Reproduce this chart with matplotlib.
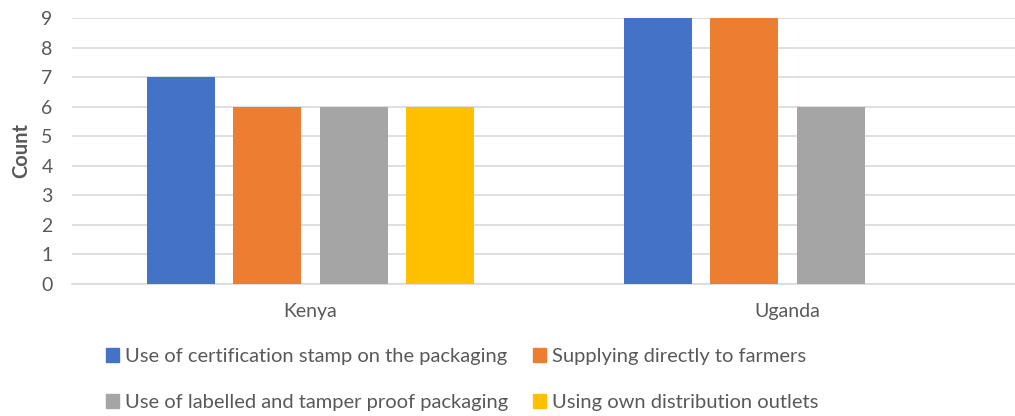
import numpy as np
import matplotlib
matplotlib.use("Agg")
import matplotlib.pyplot as plt
from matplotlib.patches import Patch

countries = ["Kenya", "Uganda"]
series_names = [
    "Use of certification stamp on the packaging",
    "Supplying directly to farmers",
    "Use of labelled and tamper proof packaging",
    "Using own distribution outlets",
]
certification_stamp = [7, 9]
direct_to_farmers = [6, 9]
tamper_proof = [6, 6]
own_outlets = [6, 0]
colors = ["#4472C4", "#ED7D31", "#A5A5A5", "#FFC000"]

plt.rcParams["font.family"] = ["Lato", "DejaVu Sans"]

fig = plt.figure(figsize=(10.15, 4.16), dpi=100)
ax = fig.add_axes([72 / 1015, 132 / 416, 954 / 1015, 266 / 416])

series = [certification_stamp, direct_to_farmers, tamper_proof, own_outlets]
x = np.arange(len(countries))
slot = 0.1813
bar_w = 0.1426
for i, (vals, col) in enumerate(zip(series, colors)):
    ax.bar(x + (i - 1.5) * slot, vals, width=bar_w, color=col, zorder=3)

ax.set_xlim(-0.5, 1.5)
ax.set_ylim(0, 9)
ax.set_yticks(range(0, 10))
ax.set_xticks(x)
ax.set_xticklabels(countries)
ax.grid(True, axis="y", color="#D9D9D9", linewidth=1.2, zorder=0)
for s in ["top", "right", "left"]:
    ax.spines[s].set_visible(False)
ax.spines["bottom"].set_color("#D9D9D9")
ax.spines["bottom"].set_linewidth(1.2)
ax.tick_params(axis="both", length=0, colors="#595959", labelsize=14)
ax.tick_params(axis="y", pad=14)
ax.tick_params(axis="x", pad=14)
ax.set_ylabel("Count", fontsize=14.5, fontweight="bold", color="#595959", labelpad=7)

handles = [Patch(color=c) for c in colors]
order = [0, 2, 1, 3]
fig.legend([handles[i] for i in order], [series_names[i] for i in order],
           loc="upper left", bbox_to_anchor=(106 / 1015, 1 - 348 / 416), ncol=2,
           frameon=False, fontsize=14.5, handlelength=0.65, handleheight=0.65,
           handletextpad=0.3, columnspacing=1.2, labelspacing=1.45,
           labelcolor="#595959", borderaxespad=0, borderpad=0)

fig.savefig("out.png", dpi=100)
